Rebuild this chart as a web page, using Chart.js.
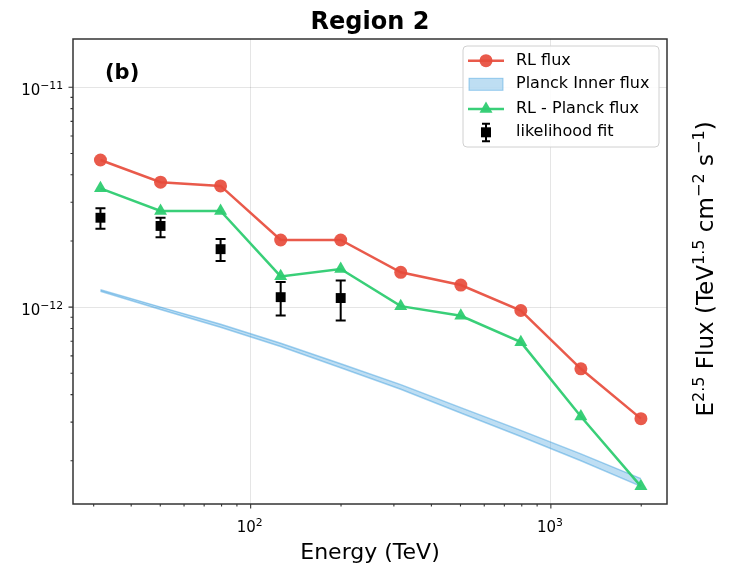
<!DOCTYPE html>
<html>
<head>
<meta charset="utf-8">
<script src="https://cdn.jsdelivr.net/npm/chart.js@4.4.0/dist/chart.umd.min.js"></script>
<style>
html, body { margin: 0; padding: 0; background: #fff; }
#wrap { width: 730px; height: 578px; }
</style>
</head>
<body>
<div id="wrap"><canvas id="sed" width="730" height="578"></canvas></div>
<script>
// energies (TeV) and fluxes
const energy = [31.6, 50.1, 79.4, 125.9, 199.5, 316.2, 501.2, 794.3, 1258.9, 1995.3];
const rlFlux = [4.67e-12, 3.70e-12, 3.56e-12, 2.02e-12, 2.02e-12, 1.44e-12, 1.26e-12, 9.65e-13, 5.24e-13, 3.11e-13];
const rlMinusPlanck = [3.47e-12, 2.74e-12, 2.74e-12, 1.38e-12, 1.49e-12, 1.01e-12, 9.13e-13, 6.93e-13, 3.18e-13, 1.53e-13];
const planckHi = [1.20e-12, 1.00e-12, 8.35e-13, 6.85e-13, 5.53e-13, 4.44e-13, 3.49e-13, 2.75e-13, 2.15e-13, 1.66e-13];
const planckLo = [1.18e-12, 9.75e-13, 8.10e-13, 6.62e-13, 5.30e-13, 4.23e-13, 3.30e-13, 2.58e-13, 2.00e-13, 1.53e-13];

const fitEnergy = [31.6, 50.1, 79.4, 125.9, 199.5];
const fitFlux = [2.55e-12, 2.34e-12, 1.835e-12, 1.11e-12, 1.10e-12];
const fitHi = [2.82e-12, 2.55e-12, 2.04e-12, 1.30e-12, 1.32e-12];
const fitLo = [2.27e-12, 2.08e-12, 1.62e-12, 9.16e-13, 8.69e-13];

// decade ticks: value, base, exponent
const xTicks = [100, 1000];
const xTickLabels = [['10', '2'], ['10', '3']];
const yTicks = [1e-12, 1e-11];
const yTickLabels = [['10', '−12'], ['10', '−11']];

const RED = 'rgba(231, 76, 60, 0.92)';
const GREEN = 'rgba(46, 204, 113, 0.95)';
const BAND = 'rgba(52, 152, 219, 0.32)';
const BAND_EDGE = 'rgba(52, 152, 219, 0.45)';
const FONT = "'DejaVu Sans', sans-serif";

const pts = (xs, ys) => xs.map((x, i) => ({ x, y: ys[i] }));

// 1..9 x 10^n ticks, major on the decades
function decadeTicks(min, max) {
    const ticks = [];
    for (let e = Math.floor(Math.log10(min)); e <= Math.floor(Math.log10(max)); e++) {
        for (let m = 1; m <= 9; m++) {
            const v = m * Math.pow(10, e);
            if (v >= min && v <= max) ticks.push({ value: v, major: m === 1 });
        }
    }
    return ticks;
}

// draw text with raised, smaller parts: [text, isSup]
function richText(ctx, parts, x, y, size, align, supScale, raise) {
    const supSize = size * supScale;
    const widths = parts.map(([t, sup]) => {
        ctx.font = `${sup ? supSize : size}px ${FONT}`;
        return ctx.measureText(t).width;
    });
    const total = widths.reduce((a, b) => a + b, 0);
    let cx = align === 'center' ? x - total / 2 : align === 'right' ? x - total : x;
    parts.forEach(([t, sup], i) => {
        ctx.font = `${sup ? supSize : size}px ${FONT}`;
        ctx.fillText(t, cx, sup ? y - raise : y);
        cx += widths[i];
    });
}

const yTitleParts = [['E', 0], ['2.5', 1], [' Flux (TeV', 0], ['1.5', 1], [' cm', 0], ['−2', 1], [' s', 0], ['−1', 1], [')', 0]];

const decorations = {
    id: 'decorations',
    afterDatasetsDraw(chart) {
        const { ctx, scales: { x, y } } = chart;
        // error bars of the likelihood fit
        ctx.save();
        ctx.strokeStyle = '#000';
        ctx.lineWidth = 2;
        fitEnergy.forEach((e, i) => {
            const px = x.getPixelForValue(e);
            const top = y.getPixelForValue(fitHi[i]);
            const bot = y.getPixelForValue(fitLo[i]);
            ctx.beginPath();
            ctx.moveTo(px, top); ctx.lineTo(px, bot);
            ctx.moveTo(px - 5, top); ctx.lineTo(px + 5, top);
            ctx.moveTo(px - 5, bot); ctx.lineTo(px + 5, bot);
            ctx.stroke();
        });
        ctx.restore();
    },
    afterDraw(chart) {
        const { ctx, chartArea: a, scales: { x, y } } = chart;
        ctx.save();

        // frame + tick marks
        ctx.strokeStyle = '#333';
        ctx.lineWidth = 1.5;
        ctx.strokeRect(a.left, a.top, a.right - a.left, a.bottom - a.top);
        ctx.lineWidth = 1.1;
        ctx.beginPath();
        x.ticks.forEach(t => {
            const px = x.getPixelForValue(t.value);
            ctx.moveTo(px, a.bottom); ctx.lineTo(px, a.bottom + (t.major ? 4.5 : 2.5));
        });
        y.ticks.forEach(t => {
            const py = y.getPixelForValue(t.value);
            ctx.moveTo(a.left, py); ctx.lineTo(a.left - (t.major ? 4.5 : 2.5), py);
        });
        ctx.stroke();

        // decade tick labels with superscript exponents
        ctx.fillStyle = '#000';
        ctx.textAlign = 'left';
        ctx.textBaseline = 'alphabetic';
        xTicks.forEach((v, i) => {
            const [b, e] = xTickLabels[i];
            richText(ctx, [[b, 0], [e, 1]], x.getPixelForValue(v) - 1, a.bottom + 28, 15, 'center', 0.72, 6);
        });
        yTicks.forEach((v, i) => {
            const [b, e] = yTickLabels[i];
            richText(ctx, [[b, 0], [e, 1]], a.left - 10, y.getPixelForValue(v) + 7.5, 15, 'right', 0.72, 6);
        });

        // title and panel tag
        ctx.textAlign = 'center';
        ctx.font = `bold 24px ${FONT}`;
        ctx.fillText('Region 2', (a.left + a.right) / 2, 29);
        ctx.textAlign = 'left';
        ctx.font = `bold 21px ${FONT}`;
        ctx.fillText('(b)', 105, 79);

        // y title on the right
        ctx.save();
        ctx.translate(705, 269);
        ctx.rotate(-Math.PI / 2);
        richText(ctx, yTitleParts, 0, 8, 23, 'center', 0.7, 9.5);
        ctx.restore();

        // legend
        const lx = 463, ly = 46, lw = 196, lh = 101;
        ctx.beginPath();
        ctx.roundRect(lx, ly, lw, lh, 4);
        ctx.fillStyle = 'rgba(255,255,255,0.85)';
        ctx.fill();
        ctx.strokeStyle = '#d0d0d0';
        ctx.lineWidth = 1;
        ctx.stroke();

        const rows = [60.7, 84.3, 109, 132.3];
        const labels = ['RL flux', 'Planck Inner flux', 'RL - Planck flux', 'likelihood fit'];
        const x0 = 468, x1 = 504, xm = 486;

        ctx.lineWidth = 2.5;
        ctx.strokeStyle = RED;
        ctx.beginPath(); ctx.moveTo(x0, rows[0]); ctx.lineTo(x1, rows[0]); ctx.stroke();
        ctx.fillStyle = RED;
        ctx.beginPath(); ctx.arc(xm, rows[0], 6.5, 0, Math.PI * 2); ctx.fill();

        ctx.fillStyle = BAND;
        ctx.fillRect(x0 + 1, rows[1] - 6, 34, 12);
        ctx.strokeStyle = BAND_EDGE;
        ctx.lineWidth = 1;
        ctx.strokeRect(x0 + 1, rows[1] - 6, 34, 12);

        ctx.lineWidth = 2.5;
        ctx.strokeStyle = GREEN;
        ctx.beginPath(); ctx.moveTo(x0, rows[2]); ctx.lineTo(x1, rows[2]); ctx.stroke();
        ctx.fillStyle = GREEN;
        ctx.beginPath();
        ctx.moveTo(xm, rows[2] - 7.5);
        ctx.lineTo(xm + 6.5, rows[2] + 3.75);
        ctx.lineTo(xm - 6.5, rows[2] + 3.75);
        ctx.closePath(); ctx.fill();

        ctx.strokeStyle = '#000';
        ctx.lineWidth = 2;
        ctx.beginPath();
        ctx.moveTo(xm, rows[3] - 8.5); ctx.lineTo(xm, rows[3] + 9);
        ctx.moveTo(xm - 4, rows[3] - 8.5); ctx.lineTo(xm + 4, rows[3] - 8.5);
        ctx.moveTo(xm - 4, rows[3] + 9); ctx.lineTo(xm + 4, rows[3] + 9);
        ctx.stroke();
        ctx.fillStyle = '#000';
        ctx.fillRect(xm - 5, rows[3] - 5, 10, 10);

        ctx.fillStyle = '#000';
        ctx.font = `16px ${FONT}`;
        ctx.textBaseline = 'middle';
        labels.forEach((t, i) => ctx.fillText(t, 516, rows[i]));

        ctx.restore();
    }
};

new Chart(document.getElementById('sed'), {
    type: 'line',
    data: {
        datasets: [
            {
                label: 'likelihood fit',
                data: pts(fitEnergy, fitFlux),
                showLine: false,
                pointStyle: 'rect',
                pointRadius: 7,
                pointBorderWidth: 0,
                pointBackgroundColor: '#000',
                borderColor: '#000'
            },
            {
                label: 'RL - Planck flux',
                data: pts(energy, rlMinusPlanck),
                borderColor: GREEN,
                borderWidth: 2.5,
                pointStyle: 'triangle',
                pointRadius: 7.5,
                pointBorderWidth: 0,
                pointBackgroundColor: GREEN
            },
            {
                label: 'Planck Inner flux',
                data: pts(energy, planckHi),
                borderColor: BAND_EDGE,
                borderWidth: 1.5,
                backgroundColor: BAND,
                fill: '+1',
                pointRadius: 0
            },
            {
                label: 'Planck lower',
                data: pts(energy, planckLo),
                borderColor: BAND_EDGE,
                borderWidth: 1.5,
                pointRadius: 0
            },
            {
                label: 'RL flux',
                data: pts(energy, rlFlux),
                borderColor: RED,
                borderWidth: 2.5,
                pointStyle: 'circle',
                pointRadius: 6.5,
                pointBorderWidth: 0,
                pointBackgroundColor: RED
            }
        ]
    },
    options: {
        responsive: false,
        animation: false,
        devicePixelRatio: 1,
        layout: { padding: { left: 0, top: 39, right: 63, bottom: 0 } },
        plugins: {
            legend: { display: false },
            tooltip: { enabled: false },
            title: { display: false }
        },
        elements: { line: { tension: 0 } },
        scales: {
            x: {
                type: 'logarithmic',
                min: 25.6,
                max: 2437,
                bounds: 'data',
                afterBuildTicks: s => { s.ticks = decadeTicks(s.min, s.max); },
                afterFit: s => { s.height = 74; },
                ticks: { display: false, autoSkip: false },
                grid: {
                    drawTicks: false,
                    color: c => (c.tick && c.tick.major ? 'rgba(0,0,0,0.1)' : 'rgba(0,0,0,0)')
                },
                border: { display: false },
                title: {
                    display: true,
                    text: 'Energy (TeV)',
                    color: '#000',
                    font: { family: FONT, size: 22 },
                    padding: { top: 0, bottom: 12 }
                }
            },
            y: {
                type: 'logarithmic',
                min: 1.272e-13,
                max: 1.658e-11,
                bounds: 'data',
                afterBuildTicks: s => { s.ticks = decadeTicks(s.min, s.max); },
                afterFit: s => { s.width = 73; },
                ticks: { display: false, autoSkip: false },
                grid: {
                    drawTicks: false,
                    color: c => (c.tick && c.tick.major ? 'rgba(0,0,0,0.1)' : 'rgba(0,0,0,0)')
                },
                border: { display: false }
            }
        }
    },
    plugins: [decorations]
});
</script>
</body>
</html>
